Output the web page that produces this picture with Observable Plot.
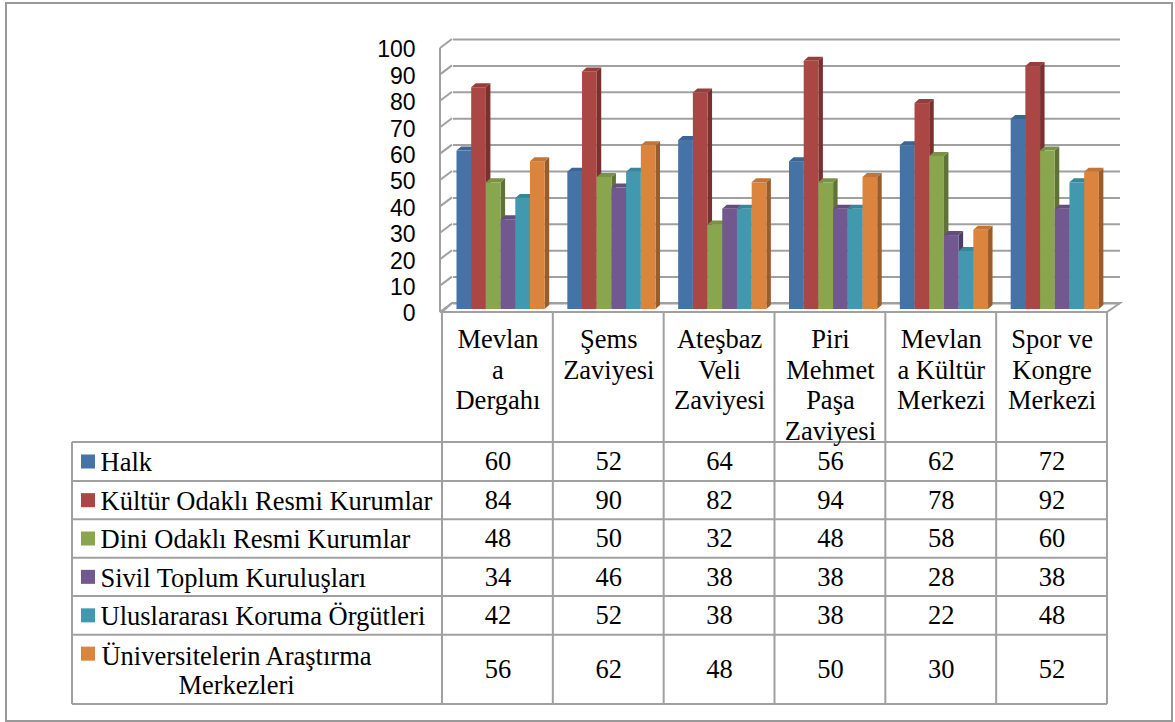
<!DOCTYPE html>
<html><head><meta charset="utf-8">
<script src="https://cdn.jsdelivr.net/npm/d3@7"></script>
<script src="https://cdn.jsdelivr.net/npm/@observablehq/plot@0.6"></script>
<style>html,body{margin:0;padding:0;background:#fff;} #chart{width:1175px;height:722px;}
#chart text.serif, #chart .serif text{font-family:"Liberation Serif","DejaVu Serif",serif !important;}
</style>
</head><body><div id="chart"></div>
<script>
// ---- data ----
const categories = ["Mevlana Dergahı","Şems Zaviyesi","Ateşbaz Veli Zaviyesi","Piri Mehmet Paşa Zaviyesi","Mevlana Kültür Merkezi","Spor ve Kongre Merkezi"];
const headerLabels = ["Mevlan\na\nDergahı","Şems\nZaviyesi","Ateşbaz\nVeli\nZaviyesi","Piri\nMehmet\nPaşa\nZaviyesi","Mevlan\na Kültür\nMerkezi","Spor ve\nKongre\nMerkezi"];
const series = ["Halk","Kültür Odaklı Resmi Kurumlar","Dini Odaklı Resmi Kurumlar","Sivil Toplum Kuruluşları","Uluslararası Koruma Örgütleri","Üniversitelerin Araştırma Merkezleri"];
const seriesLabels = ["Halk","Kültür Odaklı Resmi Kurumlar","Dini Odaklı Resmi Kurumlar","Sivil Toplum Kuruluşları","Uluslararası Koruma Örgütleri","Üniversitelerin Araştırma\nMerkezleri"];
const halk   = [60,52,64,56,62,72];
const kultur = [84,90,82,94,78,92];
const dini   = [48,50,32,48,58,60];
const sivil  = [34,46,38,38,28,38];
const ulus   = [42,52,38,38,22,48];
const univ   = [56,62,48,50,30,52];
const yTicks = [0,10,20,30,40,50,60,70,80,90,100];
const colors = ["#4572A7","#AA4643","#89A54E","#71588F","#4198AF","#DB843D"];

const seriesValues = [halk,kultur,dini,sivil,ulus,univ];
const data = series.flatMap((s,i)=>categories.map((c,j)=>({series:s, si:i, cat:c, value:seriesValues[i][j]})));

// ---- layout ----
const W=1175, H=722, mL=442, mR=68, mT=45, mB=413;
const bandW = (W-mL-mR)/categories.length;
const off=14.5, bw=14.7, dX=4.5, dY=4;
const grid="#a0a0a0";
const serif="Liberation Serif";
const sans="Liberation Sans";
const rowY=[442,481,519.3,557.7,596,634.7,704];
const rowC=rowY.slice(0,-1).map((v,i)=>(v+rowY[i+1])/2);
const baseY = H-mB;

function border(index, scales, values, dims){
  const g=d3.create("svg:g");
  g.append("rect").attr("x",6).attr("y",3).attr("width",dims.width-9).attr("height",dims.height-4)
   .attr("fill","none").attr("stroke","#999").attr("stroke-width",2);
  return g.node();
}
function walls(index, scales){
  const x=scales.x, y=scales.y;
  const [xl,xr]=x.range();
  const g=d3.create("svg:g").attr("fill","none").attr("stroke",grid).attr("stroke-width",2);
  const y0=y(0);
  g.append("polygon").attr("points",[[xl,y0+3],[xr,y0+3],[xr+13,y0-6],[xl+10,y0-6]].join(" ")).attr("fill","#fff");
  g.append("line").attr("x1",xl-2).attr("x2",xl-2).attr("y1",y(100)+3).attr("y2",y0+3);
  for(const v of yTicks){
    g.append("line").attr("x1",xl-2).attr("y1",y(v)+3).attr("x2",xl+10).attr("y2",y(v)-6);
  }
  return g.node();
}
function faces(index, scales){
  const x=scales.x, y=scales.y;
  const g=d3.create("svg:g");
  for(const d of data){
    const x0=x(d.cat)+off+d.si*bw, x1=x0+bw, yt=y(d.value), yb=y(0);
    const c=d3.color(colors[d.si]);
    g.append("polygon").attr("points",[[x1,yb],[x1,yt],[x1+dX,yt-dY],[x1+dX,yb-dY]].join(" ")).attr("fill",c.darker(1).formatHex());
    g.append("polygon").attr("points",[[x0,yt],[x1,yt],[x1+dX,yt-dY],[x0+dX,yt-dY]].join(" ")).attr("fill",c.darker(0.35).formatHex());
  }
  return g.node();
}
function table(index, scales){
  const x=scales.x;
  const [xl,xr]=x.range();
  const tl=72, top=baseY+3;
  const g=d3.create("svg:g").attr("fill","none").attr("stroke",grid).attr("stroke-width",2);
  for(const ry of rowY) g.append("line").attr("x1",tl).attr("x2",xr).attr("y1",ry).attr("y2",ry);
  g.append("line").attr("x1",tl).attr("x2",tl).attr("y1",rowY[0]).attr("y2",rowY[rowY.length-1]);
  for(const c of categories) g.append("line").attr("x1",x(c)).attr("x2",x(c)).attr("y1",top).attr("y2",rowY[rowY.length-1]);
  g.append("line").attr("x1",xr).attr("x2",xr).attr("y1",top).attr("y2",rowY[rowY.length-1]);
  series.forEach((s,i)=>{
    const cy = i===series.length-1 ? rowC[i]-15.7 : rowC[i];
    g.append("rect").attr("x",81).attr("y",cy-7).attr("width",14).attr("height",14).attr("fill",colors[i]).attr("stroke","none");
  });
  return g.node();
}

const marks=[border, walls,
  Plot.ruleY(yTicks,{y:d=>d, dx:11, dy:-6, insetRight:-2, stroke:grid, strokeWidth:2}),
  faces];
series.forEach((s,i)=>{
  marks.push(Plot.barY(data.filter(d=>d.si===i),{x:"cat", y:"value", fill:colors[i],
    insetLeft: off+i*bw, insetRight: bandW-off-(i+1)*bw}));
});
marks.push(table);
marks.push(Plot.text(yTicks,{y:d=>d, text:d=>String(d), frameAnchor:"left", textAnchor:"end", dx:-27, dy:4.5,
  fontSize:23, fontFamily:sans, fill:"#000"}));
marks.push(Plot.text(categories,{x:d=>d, text:(d,i)=>headerLabels[i], frameAnchor:"bottom", lineAnchor:"top",
  dy:16.5, lineHeight:1.16, fontSize:26.5, fontFamily:serif, fill:"#000", className:"serif"}));
series.forEach((s,i)=>{
  marks.push(Plot.text(data.filter(d=>d.si===i),{x:"cat", text:d=>String(d.value), frameAnchor:"bottom", lineAnchor:"middle",
    dy: rowC[i]-baseY, fontSize:26.5, fontFamily:serif, fill:"#000", className:"serif"}));
  const last = i===series.length-1;
  marks.push(Plot.text([seriesLabels[i]],{text:d=>d, frameAnchor:"bottom-left", lineAnchor:"middle",
    textAnchor: last ? "middle" : "start", dx: last ? 236-mL : 100-mL, dy: rowC[i]-baseY,
    lineHeight:1.1, fontSize:26.5, fontFamily:serif, fill:"#000", className:"serif"}));
});

const chart = Plot.plot({
  width:W, height:H, marginLeft:mL, marginRight:mR, marginTop:mT, marginBottom:mB,
  x:{type:"band", domain:categories, padding:0, round:false, axis:null},
  y:{domain:[0,100], axis:null},
  style:{background:"#fff", overflow:"visible"},
  marks
});
document.getElementById("chart").appendChild(chart);
</script>
</body></html>
